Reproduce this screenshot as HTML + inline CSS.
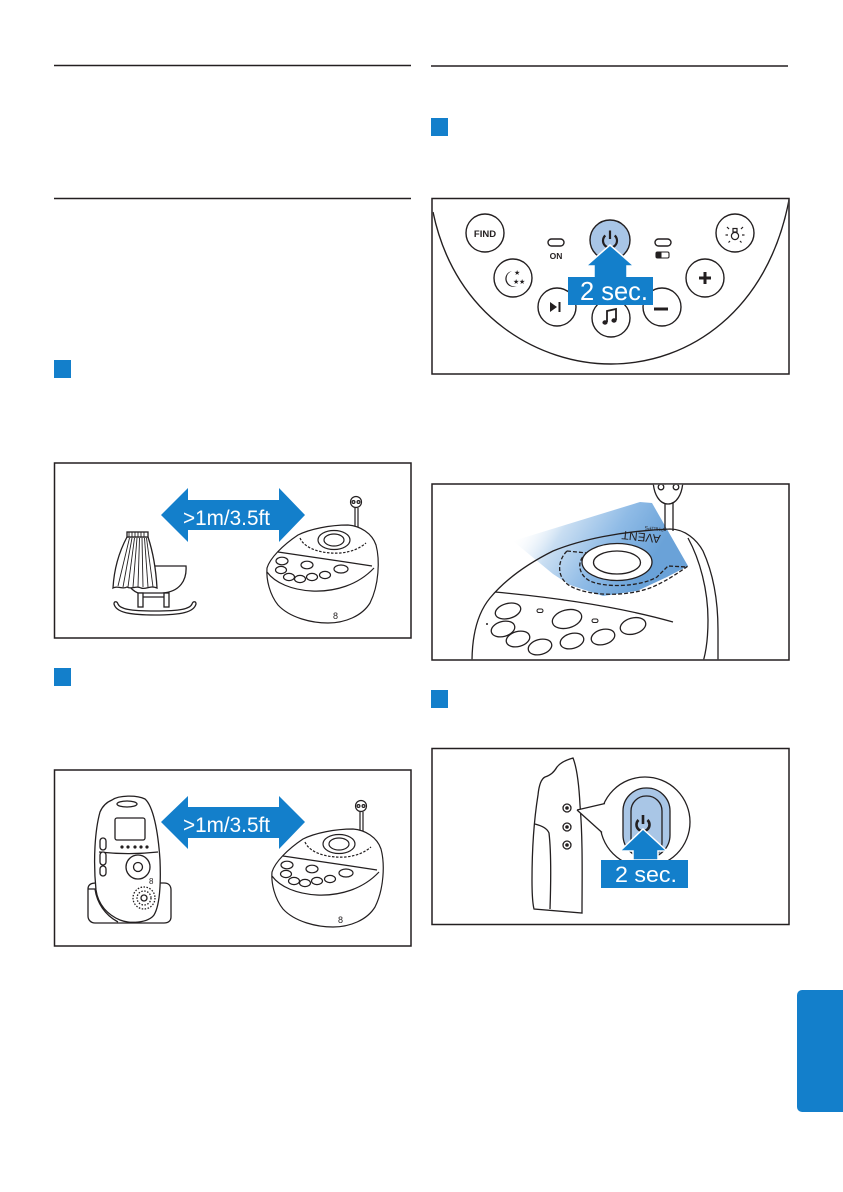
<!DOCTYPE html>
<html><head><meta charset="utf-8"><style>
html,body{margin:0;padding:0;background:#fff;width:843px;height:1192px;overflow:hidden}
svg{display:block}
text{font-family:"Liberation Sans",sans-serif}
</style></head><body>
<svg width="843" height="1192" viewBox="0 0 843 1192" xmlns="http://www.w3.org/2000/svg">
<defs>
<clipPath id="c1"><rect x="432.8" y="199.3" width="355.5" height="174"/></clipPath>
<clipPath id="c2"><rect x="432.8" y="484.8" width="355.5" height="174.5"/></clipPath>
<linearGradient id="beam" x1="520" y1="525" x2="630" y2="595" gradientUnits="userSpaceOnUse">
<stop offset="0" stop-color="#ffffff" stop-opacity="0"/>
<stop offset="0.3" stop-color="#c9def2"/>
<stop offset="0.65" stop-color="#8fbbe6"/>
<stop offset="1" stop-color="#6aa2d8"/>
</linearGradient>
</defs>

<!-- rules and frames -->
<g stroke="#231f20" stroke-width="1.5" fill="none">
<line x1="54" y1="65.5" x2="411" y2="65.5"/>
<line x1="54" y1="198.5" x2="411" y2="198.5"/>
<line x1="431" y1="66" x2="788" y2="66"/>
<rect x="54.5" y="463" width="356.5" height="175"/>
<rect x="54.5" y="770" width="356.5" height="176"/>
<rect x="432" y="198.5" width="357" height="175.5"/>
<rect x="432" y="484" width="357" height="176"/>
<rect x="432" y="748.5" width="357" height="176"/>
</g>
<g fill="#137fcb">
<rect x="54" y="360" width="17" height="18"/>
<rect x="431" y="118" width="17" height="18"/>
<rect x="54" y="668" width="17" height="18"/>
<rect x="431" y="690" width="17" height="18"/>
<rect x="797" y="990" width="52" height="122" rx="5"/>
</g>

<!-- ===== Right box 1 : control panel ===== -->
<g clip-path="url(#c1)" stroke="#231f20" stroke-width="1.4" fill="#fff">
<path d="M433,212 C455,318 540,364 611,364 C690,364 768,310 789,200" fill="none"/>
<circle cx="485" cy="233" r="19"/>
<circle cx="735" cy="233" r="19"/>
<circle cx="513" cy="278" r="19"/>
<circle cx="705" cy="278" r="19"/>
<circle cx="557" cy="307" r="19"/>
<circle cx="611" cy="318" r="19"/>
<circle cx="662" cy="307" r="19"/>
<circle cx="610" cy="240" r="20" fill="#a8c5e6"/>
<rect x="548" y="239" width="16" height="7" rx="3.5"/>
<rect x="655" y="239" width="16" height="7" rx="3.5"/>
<rect x="656" y="252" width="13" height="6" rx="1.5" stroke-width="1.1"/>
</g>
<rect x="656" y="252" width="5.5" height="6" fill="#231f20"/>
<text x="485" y="237" font-size="9.5" font-weight="bold" text-anchor="middle" fill="#231f20">FIND</text>
<text x="556" y="259" font-size="8.5" font-weight="bold" text-anchor="middle" fill="#231f20">ON</text>
<!-- bulb -->
<g stroke="#231f20" stroke-width="1.2" fill="none">
<circle cx="735" cy="236" r="3.6"/>
<rect x="733" y="228.5" width="4" height="3.5"/>
<line x1="727" y1="227" x2="729" y2="229"/><line x1="743" y1="227" x2="741" y2="229"/>
<line x1="725.5" y1="235" x2="728" y2="235"/><line x1="742" y1="235" x2="744.5" y2="235"/>
<line x1="728.5" y1="242.5" x2="730" y2="241"/><line x1="741.5" y1="242.5" x2="740" y2="241"/>
</g>
<!-- moon -->
<path d="M512,271 A8,8 0 1 0 517,286 A6.5,6.5 0 1 1 512,271 Z" fill="#231f20"/>
<text x="514" y="275" font-size="7" fill="#231f20" style="font-family:'DejaVu Sans',sans-serif">★</text>
<text x="513" y="284" font-size="7" fill="#231f20" style="font-family:'DejaVu Sans',sans-serif">★</text>
<text x="519" y="284" font-size="7" fill="#231f20" style="font-family:'DejaVu Sans',sans-serif">★</text>
<!-- plus / minus / play / music -->
<g stroke="#231f20" stroke-width="3" fill="none">
<path d="M699,278 H711 M705,272 V284"/>
<path d="M654,309 H668"/>
</g>
<path d="M550,302 L550,312 L557,307 Z" fill="#231f20"/>
<rect x="558.5" y="302" width="2" height="10" fill="#231f20"/>
<g stroke="#231f20" stroke-width="1.8" fill="none">
<path d="M607,322 L607,311 L616,309 L616,320"/>
</g>
<ellipse cx="605" cy="322.5" rx="2.6" ry="2.2" fill="#231f20"/>
<ellipse cx="614" cy="320.5" rx="2.6" ry="2.2" fill="#231f20"/>
<!-- power icon -->
<path d="M605.3,235.5 A7,7 0 1 0 614.7,235.5" stroke="#231f20" stroke-width="2.2" fill="none"/>
<line x1="610" y1="230.5" x2="610" y2="239" stroke="#231f20" stroke-width="2.2"/>
<!-- arrow + label -->
<polygon points="610,245 634,266 627,266 627,278 594,278 594,266 586,266" fill="#137fcb" stroke="#fff" stroke-width="1.5"/>
<rect x="568" y="277" width="85" height="28" fill="#137fcb"/>
<text x="580" y="300" font-size="26" fill="#fff" textLength="68" lengthAdjust="spacingAndGlyphs">2 sec.</text>

<!-- ===== Left box 1 : cradle ===== -->
<polygon points="161,515 188,488 188,500 279,500 279,488 305,515 279,542 279,530 188,530 188,542" fill="#137fcb"/>
<text x="183" y="525" font-size="21" fill="#fff" textLength="87" lengthAdjust="spacingAndGlyphs">&gt;1m/3.5ft</text>

<g stroke="#231f20" stroke-width="1.3" fill="#fff">
<path d="M122,566 L186,566 C187,580 180,592 162,593 L138,593 C130,590 124,580 122,566 Z"/>
<path d="M127,537 C119,552 114,570 113,588 C118,585 122,590 127,587 C132,590 136,585 141,588 C146,590 150,585 157,588 C156,570 153,552 148,537 Z"/>
<rect x="127" y="532" width="21" height="5"/>
<rect x="138" y="593" width="5" height="14"/>
<rect x="164" y="593" width="5" height="14"/>
<line x1="143" y1="597" x2="164" y2="597"/>
<path d="M114,604 C116,612 128,615 155,615 C182,615 194,612 196,604 C196,601 193,601 192,604 C190,609 180,611 155,611 C130,611 120,609 118,604 C117,601 114,601 114,604 Z"/>
</g>
<g stroke="#231f20" stroke-width="0.9">
<line x1="129" y1="532" x2="129" y2="537"/><line x1="132" y1="532" x2="132" y2="537"/><line x1="135" y1="532" x2="135" y2="537"/><line x1="138" y1="532" x2="138" y2="537"/><line x1="141" y1="532" x2="141" y2="537"/><line x1="144" y1="532" x2="144" y2="537"/>
<line x1="129.5" y1="538" x2="118" y2="586"/><line x1="132" y1="538" x2="123" y2="587"/><line x1="134.5" y1="538" x2="128" y2="587"/><line x1="137" y1="538" x2="133" y2="587"/><line x1="139.5" y1="538" x2="138" y2="587"/><line x1="142" y1="538" x2="143" y2="587"/><line x1="144.5" y1="538" x2="148" y2="587"/><line x1="146.5" y1="538" x2="153" y2="587"/>
</g>

<!-- base unit (box 1) -->
<g stroke="#231f20" stroke-width="1.2" fill="#fff">
<path d="M355,508 L355,530 M358,508 L358,530" fill="none"/>
<circle cx="356" cy="502" r="5.5"/>
<circle cx="353.5" cy="502" r="1.4"/><circle cx="358.5" cy="502" r="1.4"/>
<path d="M267,568 C270,558 283,545 298,535 C310,529 330,525 348,525 C360,526 372,533 376,545 C380,560 379,585 370,603 C362,616 345,623 328,623 C312,623 290,618 278,605 C270,595 266,580 267,568 Z"/>
<path d="M267,572 C275,583 292,590 312,591 C335,592 358,585 374,568" fill="none"/>
<path d="M278,552 C305,556 340,561 372,566" fill="none"/>
<ellipse cx="334" cy="540" rx="16" ry="9.5"/>
<ellipse cx="334" cy="540" rx="10" ry="6"/>
<path d="M300,538 C305,550 325,554 340,553 C352,552 360,548 366,543" fill="none" stroke-dasharray="2.5,1.5"/>
<ellipse cx="282" cy="561" rx="6" ry="3.8"/>
<ellipse cx="307" cy="565" rx="6" ry="3.8"/>
<ellipse cx="341" cy="569" rx="7" ry="4"/>
<ellipse cx="281" cy="570" rx="5.5" ry="3.6"/>
<ellipse cx="289" cy="577" rx="5.5" ry="3.6"/>
<ellipse cx="300" cy="579" rx="5.5" ry="3.6"/>
<ellipse cx="312" cy="577" rx="5.5" ry="3.6"/>
<ellipse cx="325" cy="575" rx="5.5" ry="3.6"/>
</g>
<text x="333" y="619" font-size="9" fill="#231f20">8</text>

<!-- ===== Left box 2 : handset + unit ===== -->
<polygon points="161,822 188,796 188,807 279,807 279,796 305,822 279,849 279,838 188,838 188,849" fill="#137fcb"/>
<text x="183" y="832" font-size="21" fill="#fff" textLength="87" lengthAdjust="spacingAndGlyphs">&gt;1m/3.5ft</text>

<g stroke="#231f20" stroke-width="1.3" fill="#fff">
<path d="M88,889 C88,885 91,883 96,883 L164,883 C169,883 171,886 171,890 L171,917 C171,921 168,923 164,923 L95,923 C91,923 88,920 88,916 Z"/>
<path d="M112,800 C119,795 137,795 145,799 C153,806 158,830 160,860 C161,885 160,905 154,915 C148,923 130,924 120,920 C108,915 98,905 96,890 C93,860 95,830 100,812 C103,805 107,802 112,800 Z"/>
<path d="M88,889 L95,889 C97,903 105,915 118,922" fill="none"/>
<ellipse cx="127" cy="804" rx="10" ry="3"/>
<rect x="115" y="818" width="30" height="22" rx="2"/>
<path d="M99,852 C118,854 140,854 158,852" fill="none"/>
<circle cx="138" cy="867" r="12"/>
<circle cx="138" cy="867" r="4.5"/>
<rect x="100" y="838" width="6" height="12" rx="3"/>
<rect x="100" y="852" width="6" height="13" rx="3"/>
<rect x="100" y="866" width="6" height="10" rx="3"/>
<circle cx="144" cy="898" r="11" stroke-dasharray="1.5,1.5"/>
<circle cx="144" cy="898" r="7" stroke-dasharray="1.5,1.5"/>
<circle cx="144" cy="898" r="3"/>
</g>
<g fill="#231f20">
<circle cx="122" cy="847" r="1.6"/><circle cx="128" cy="847" r="1.6"/><circle cx="135" cy="847" r="1.6"/><circle cx="141" cy="847" r="1.6"/><circle cx="147" cy="847" r="1.6"/>
</g>
<text x="149" y="884" font-size="8" fill="#231f20">8</text>

<!-- base unit (box 2) -->
<g transform="translate(5,304)">
<g stroke="#231f20" stroke-width="1.2" fill="#fff">
<path d="M355,508 L355,530 M358,508 L358,530" fill="none"/>
<circle cx="356" cy="502" r="5.5"/>
<circle cx="353.5" cy="502" r="1.4"/><circle cx="358.5" cy="502" r="1.4"/>
<path d="M267,568 C270,558 283,545 298,535 C310,529 330,525 348,525 C360,526 372,533 376,545 C380,560 379,585 370,603 C362,616 345,623 328,623 C312,623 290,618 278,605 C270,595 266,580 267,568 Z"/>
<path d="M267,572 C275,583 292,590 312,591 C335,592 358,585 374,568" fill="none"/>
<path d="M278,552 C305,556 340,561 372,566" fill="none"/>
<ellipse cx="334" cy="540" rx="16" ry="9.5"/>
<ellipse cx="334" cy="540" rx="10" ry="6"/>
<path d="M300,538 C305,550 325,554 340,553 C352,552 360,548 366,543" fill="none" stroke-dasharray="2.5,1.5"/>
<ellipse cx="282" cy="561" rx="6" ry="3.8"/>
<ellipse cx="307" cy="565" rx="6" ry="3.8"/>
<ellipse cx="341" cy="569" rx="7" ry="4"/>
<ellipse cx="281" cy="570" rx="5.5" ry="3.6"/>
<ellipse cx="289" cy="577" rx="5.5" ry="3.6"/>
<ellipse cx="300" cy="579" rx="5.5" ry="3.6"/>
<ellipse cx="312" cy="577" rx="5.5" ry="3.6"/>
<ellipse cx="325" cy="575" rx="5.5" ry="3.6"/>
</g>
<text x="333" y="619" font-size="9" fill="#231f20">8</text>
</g>

<!-- ===== Right box 2 : top view with light beam ===== -->
<g clip-path="url(#c2)">
<polygon points="513,541 640,502 652,503 688,566 667,577 637,591 603,596 570,585 553,574" fill="url(#beam)"/>
<g stroke="#231f20" stroke-width="1.3" fill="#fff">
<path d="M665,480 L665,531 M673,480 L673,531" fill="none"/>
<path d="M653,478 C653,495 660,504 668,504 C676,504 683,495 683,478"/>
<circle cx="661" cy="487" r="2.8"/><circle cx="676" cy="487" r="2.8"/>
</g>
<g stroke="#231f20" stroke-width="1.3" fill="none">
<path d="M472,662 C472,640 476,615 490,598 C505,580 525,565 553,551 C580,540 620,531 670,529 C685,529 697,540 703,551 C713,573 718,600 718,630 L718,662"/>
<path d="M688,538 C700,560 708,590 708,620 C708,640 706,652 703,662"/>
<path d="M495,592 C560,598 620,607 673,622"/>
<path d="M567,551 C556,562 557,580 572,587 C590,596 625,597 650,588 C665,582 678,573 688,566" stroke-dasharray="4,2"/>
<path d="M567,551 L587,553" stroke-dasharray="4,2"/>
<path d="M587,553 C576,560 578,575 590,581 C605,588 640,587 657,577 L668,566 L687,567" stroke-dasharray="4,2"/>
</g>
<ellipse cx="617" cy="562" rx="35" ry="18.5" fill="#fff" stroke="#231f20" stroke-width="1.3"/>
<ellipse cx="617" cy="562.5" rx="23.5" ry="11.5" fill="#fff" stroke="#231f20" stroke-width="1.3"/>
<text x="0" y="0" font-size="12" fill="#231f20" transform="translate(661,535) rotate(186)">AVENT</text>
<text x="0" y="0" font-size="5" fill="#231f20" transform="translate(664,528) rotate(186)">PHILIPS</text>
<g stroke="#231f20" stroke-width="1.3" fill="#fff">
<ellipse cx="508" cy="611" rx="13" ry="7.5" transform="rotate(-15 508 611)"/>
<ellipse cx="503" cy="629" rx="12" ry="7.5" transform="rotate(-15 503 629)"/>
<ellipse cx="518" cy="639" rx="12" ry="7.5" transform="rotate(-15 518 639)"/>
<ellipse cx="540" cy="647" rx="12" ry="7.5" transform="rotate(-15 540 647)"/>
<ellipse cx="567" cy="619" rx="15" ry="9" transform="rotate(-15 567 619)"/>
<ellipse cx="572" cy="641" rx="12" ry="7.5" transform="rotate(-15 572 641)"/>
<ellipse cx="603" cy="637" rx="12" ry="7.5" transform="rotate(-15 603 637)"/>
<ellipse cx="633" cy="626" rx="13" ry="8" transform="rotate(-15 633 626)"/>
<rect x="537" y="609" width="6" height="3.5" rx="1.7" stroke-width="1"/>
<rect x="592" y="619" width="6" height="3.5" rx="1.7" stroke-width="1"/>
</g>
<circle cx="487" cy="624" r="1" fill="#231f20"/>
</g>

<!-- ===== Right box 3 : side view ===== -->
<g stroke="#231f20" stroke-width="1.3" fill="#fff">
<path d="M573,758 C566,760 560,763 557,767 C554,772 551,775 545,777 C541,779 539,785 538,795 C534,820 532,850 532,880 C532,895 533,905 534,909 L582,913 C582,880 583,840 580,805 C579,785 577,768 573,758 Z"/>
<path d="M535,824 C542,826 547,828 549,833 C551,850 551,880 550,909" fill="none"/>
<circle cx="567" cy="808" r="4"/><circle cx="567" cy="827" r="4"/><circle cx="567" cy="845" r="4"/>
<circle cx="645" cy="822" r="45"/>
</g>
<g fill="#231f20">
<circle cx="567" cy="808" r="1.8"/><circle cx="567" cy="827" r="1.8"/><circle cx="567" cy="845" r="1.8"/>
</g>
<polygon points="577,810 605.5,803 602.5,832.5" fill="#fff"/>
<g stroke="#231f20" stroke-width="1.3">
<line x1="577" y1="810" x2="605" y2="803.5"/>
<line x1="577" y1="810" x2="602" y2="832.5"/>
</g>
<rect x="623" y="788" width="47" height="70" rx="23" fill="#a9c6e6" stroke="#231f20" stroke-width="1.3"/>
<rect x="631" y="796" width="31" height="62" rx="15" fill="none" stroke="#231f20" stroke-width="1.3"/>
<path d="M638.5,820 A6.5,6.5 0 1 0 647.5,820" stroke="#231f20" stroke-width="2.6" fill="none"/>
<line x1="643" y1="815" x2="643" y2="824" stroke="#231f20" stroke-width="2.6"/>
<polygon points="643,829 667,851 658,851 658,860 633,860 633,851 620,851" fill="#137fcb" stroke="#fff" stroke-width="1.5"/>
<rect x="601" y="860" width="87" height="28" fill="#137fcb"/>
<text x="615" y="882" font-size="22" fill="#fff" textLength="62" lengthAdjust="spacingAndGlyphs">2 sec.</text>
</svg>
</body></html>
